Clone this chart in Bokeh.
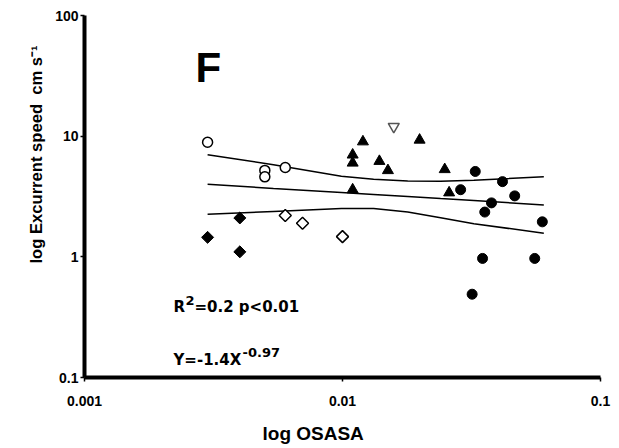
import numpy as np
from bokeh.plotting import figure
from bokeh.models import Range1d, FixedTicker, CustomJSTickFormatter, Label, Title
from bokeh.embed import file_html
from bokeh.resources import INLINE

# Species groups: OSASA (x) vs excurrent speed in cm/s (y)
osasa_open_circle = [0.0030, 0.0050, 0.0050, 0.0060]
speed_open_circle = [8.9, 5.2, 4.6, 5.5]

osasa_filled_diamond = [0.0030, 0.0040, 0.0040]
speed_filled_diamond = [1.45, 2.1, 1.1]

osasa_open_diamond = [0.0060, 0.0070, 0.0100]
speed_open_diamond = [2.2, 1.9, 1.47]

osasa_triangle = [0.01095, 0.01095, 0.01095, 0.0120, 0.0139, 0.0150, 0.0199, 0.0249, 0.0259]
speed_triangle = [7.0, 6.0, 3.6, 9.0, 6.2, 5.2, 9.3, 5.3, 3.4]

osasa_inv_triangle = [0.0158]
speed_inv_triangle = [12.0]

osasa_filled_circle = [0.0287, 0.0318, 0.0327, 0.0349, 0.0356, 0.0378, 0.0417, 0.0465, 0.0556, 0.0595]
speed_filled_circle = [3.6, 0.49, 5.1, 0.97, 2.35, 2.8, 4.2, 3.2, 0.97, 1.95]

# Power-law fit and its confidence band
fit_osasa = [0.0030, 0.0054, 0.0099, 0.0132, 0.0179, 0.0240, 0.0323, 0.0603]
fit_speed = [4.00, 3.69, 3.42, 3.29, 3.16, 3.04, 2.93, 2.69]
fit_upper = [7.0, 5.8, 4.66, 4.4, 4.26, 4.24, 4.32, 4.6]
fit_lower = [2.25, 2.38, 2.52, 2.52, 2.35, 2.11, 1.88, 1.57]

x_ticks = [0.001, 0.01, 0.1]
y_ticks = [0.1, 1, 10, 100]

AX_FONT = "Liberation Sans"
STAT_FONT = "DejaVu Sans"

p = figure(
    x_axis_type="log", y_axis_type="log",
    x_range=Range1d(0.001, 0.1), y_range=Range1d(0.1, 100),
    frame_width=516, frame_height=362,
    min_border_left=84, min_border_right=19,
    min_border_top=15, min_border_bottom=71,
    output_backend="svg", toolbar_location=None,
)
p.outline_line_color = None
p.xgrid.visible = False
p.ygrid.visible = False
p.background_fill_color = "white"
p.border_fill_color = "white"

fmt = CustomJSTickFormatter(code="return String(tick);")
for ax, ticks in ((p.xaxis[0], x_ticks), (p.yaxis[0], y_ticks)):
    ax.ticker = FixedTicker(ticks=ticks, minor_ticks=[])
    ax.formatter = fmt
    ax.axis_line_width = 4
    ax.axis_line_color = "black"
    ax.major_tick_line_width = 1.5
    ax.major_tick_line_color = "black"
    ax.major_tick_in = 0
    ax.major_tick_out = 4
    ax.minor_tick_line_color = None
    ax.major_label_text_font = AX_FONT
    ax.major_label_text_font_style = "bold"
    ax.major_label_text_font_size = "14px"
    ax.major_label_text_color = "black"
p.xaxis.major_label_standoff = 14
p.yaxis.major_label_standoff = 2

# Regression line and band
p.line(fit_osasa, fit_speed, line_color="black", line_width=1.5)
p.line(fit_osasa, fit_upper, line_color="black", line_width=1.5)
p.line(fit_osasa, fit_lower, line_color="black", line_width=1.5)

# Markers
p.scatter(osasa_open_circle, speed_open_circle, marker="circle", size=10,
          fill_color="white", line_color="black", line_width=1.5)
p.scatter(osasa_filled_diamond, speed_filled_diamond, marker="square", angle=np.pi / 4,
          size=8.5, fill_color="black", line_color="black", line_width=1)
p.scatter(osasa_open_diamond, speed_open_diamond, marker="square", angle=np.pi / 4,
          size=8.5, fill_color="white", line_color="black", line_width=1.5)
p.scatter(osasa_triangle, speed_triangle, marker="triangle", size=11,
          fill_color="black", line_color="black", line_width=1)
p.scatter(osasa_inv_triangle, speed_inv_triangle, marker="inverted_triangle", size=11,
          fill_color="white", line_color="#555555", line_width=1.5)
p.scatter(osasa_filled_circle, speed_filled_circle, marker="circle", size=10,
          fill_color="black", line_color="black", line_width=1)


def note(text, x, y, size, font=AX_FONT, style="bold"):
    p.add_layout(Label(
        x=x, y=y, x_units="screen", y_units="screen", text=text,
        text_font=font, text_font_size=size, text_font_style=style,
        text_color="black", text_align="left", text_baseline="alphabetic",
    ))


# Panel letter
note("F", 111, 310, "42px")

# Fit statistics
note("R", 89, 71, "15px", STAT_FONT)
note("2", 101, 77, "13px", STAT_FONT)
note("=0.2 p<0.01", 110, 71, "15px", STAT_FONT)
note("Y=-1.4X", 89, 18, "15px", STAT_FONT)
note("-0.97", 158, 25, "13px", STAT_FONT)


def side_title(text, side, offset, size, standoff):
    p.add_layout(Title(
        text=text, align="left", offset=offset, standoff=standoff,
        text_font=AX_FONT, text_font_size=size, text_font_style="bold",
        text_color="black",
    ), side)


# Axis titles
side_title("log OSASA", "below", 178, "19px", 25)
side_title("log Excurrent speed \u00a0cm s\u207b\u00b9", "left", 114, "16.6px", 14)

open("out.html", "w").write(file_html(p, INLINE))
